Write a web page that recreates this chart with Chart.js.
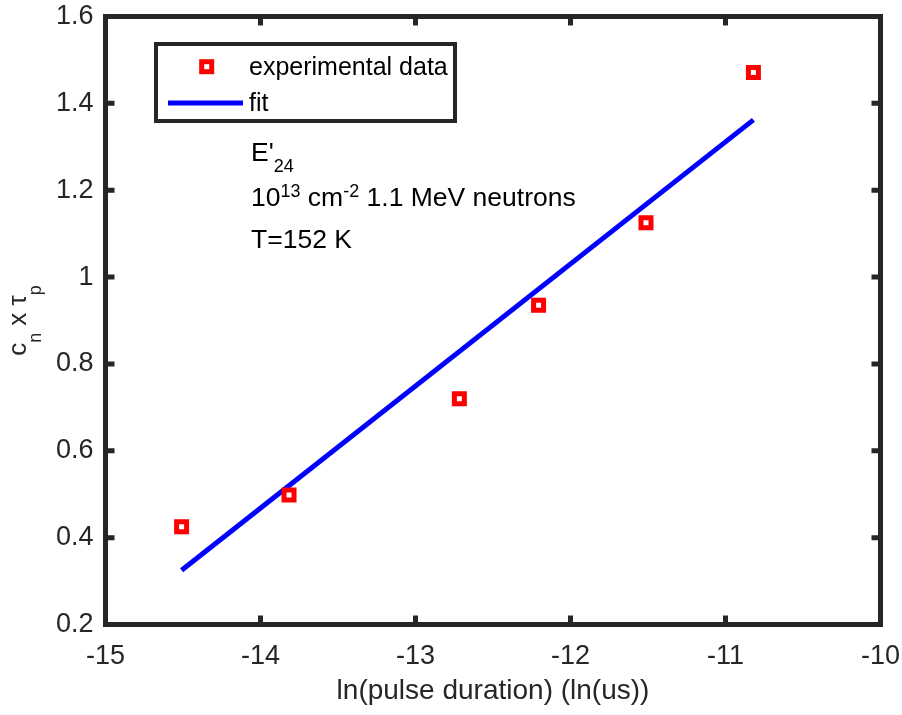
<!DOCTYPE html>
<html>
<head>
  <title>cn x tau_p vs pulse duration</title>
  <style>
    html, body { margin: 0; padding: 0; background: #fff; }
    #wrap { width: 902px; height: 715px; }
  </style>
</head>
<body>
  <div id="wrap">
    <canvas id="canvas"></canvas>
  </div>
  <script src="https://cdn.jsdelivr.net/npm/chart.js"></script>
  <script>
    // ln of pulse duration and measured cn x tau_p
    var pulseLn = [-14.509, -13.816, -12.717, -12.206, -11.513, -10.820];
    var cnTau = [0.425, 0.498, 0.720, 0.935, 1.125, 1.471];
    // straight fit, two end points
    var fitX = [-14.509, -10.820];
    var fitY = [0.325, 1.362];
    var xTicks = [-15, -14, -13, -12, -11, -10];
    var yTicks = [0.2, 0.4, 0.6, 0.8, 1, 1.2, 1.4, 1.6];
    var legendLabels = ['experimental data', 'fit'];
    var xTitle = 'ln(pulse duration) (ln(us))';

    var FONT = '"Liberation Sans", Arial, Helvetica, sans-serif';
    var AXIS = '#262626';

    function font(size) { return size + 'px ' + FONT; }

    // draw a run of text pieces: [text, size, dy]
    function richText(ctx, x, y, parts) {
      parts.forEach(function(p) {
        ctx.font = font(p[1]);
        ctx.fillText(p[0], x, y + p[2]);
        x += ctx.measureText(p[0]).width;
      });
      return x;
    }
    function richWidth(ctx, parts) {
      var w = 0;
      parts.forEach(function(p) { ctx.font = font(p[1]); w += ctx.measureText(p[0]).width; });
      return w;
    }
    // no label overflow padding, keep the plot box where it is
    function noPad(s) {
      s.paddingLeft = 0; s.paddingRight = 0; s.paddingTop = 0; s.paddingBottom = 0;
    }

    var matlabLook = {
      id: 'matlabLook',
      afterDraw: function(chart) {
        var ctx = chart.ctx, a = chart.chartArea;
        var xs = chart.scales.x, ys = chart.scales.y;
        ctx.save();

        // box and inward ticks
        ctx.strokeStyle = AXIS;
        ctx.lineWidth = 5;
        ctx.strokeRect(a.left, a.top, a.right - a.left, a.bottom - a.top);
        ctx.beginPath();
        xTicks.forEach(function(v) {
          var px = xs.getPixelForValue(v);
          ctx.moveTo(px, a.bottom); ctx.lineTo(px, a.bottom - 9);
          ctx.moveTo(px, a.top); ctx.lineTo(px, a.top + 9);
        });
        yTicks.forEach(function(v) {
          var py = ys.getPixelForValue(v);
          ctx.moveTo(a.left, py); ctx.lineTo(a.left + 9, py);
          ctx.moveTo(a.right, py); ctx.lineTo(a.right - 9, py);
        });
        ctx.stroke();

        // legend box
        ctx.fillStyle = '#fff';
        ctx.fillRect(156, 44, 299, 77);
        ctx.lineWidth = 4;
        ctx.strokeStyle = AXIS;
        ctx.strokeRect(156, 44, 299, 77);
        ctx.strokeStyle = '#ff0000';
        ctx.lineWidth = 5;
        ctx.strokeRect(201.7, 61.7, 10, 10);
        ctx.strokeStyle = '#0000ff';
        ctx.beginPath();
        ctx.moveTo(168, 103); ctx.lineTo(243, 103);
        ctx.stroke();
        ctx.fillStyle = '#000';
        ctx.font = font(25);
        ctx.textBaseline = 'alphabetic';
        ctx.textAlign = 'left';
        ctx.fillText(legendLabels[0], 249, 75);
        ctx.fillText(legendLabels[1], 249, 111);

        // annotation
        richText(ctx, 251, 161, [["E'", 26.5, 0], ['24', 18, 10.5]]);
        richText(ctx, 251, 206, [['10', 26.5, 0], ['13', 18, -9], [' cm', 26.5, 0], ['-2', 18, -9], [' 1.1 MeV neutrons', 26.5, 0]]);
        richText(ctx, 251, 248, [['T=152 K', 26.5, 0]]);

        // axis titles
        ctx.fillStyle = AXIS;
        ctx.font = font(28);
        ctx.textAlign = 'center';
        ctx.fillText(xTitle, (a.left + a.right) / 2, 699);
        ctx.textAlign = 'left';
        var yParts = [['c', 26, 0], ['n', 18, 15], [' x ', 26, 0], ['\u03c4', 26, 0], ['p', 18, 15]];
        var w = richWidth(ctx, yParts);
        ctx.translate(26, (a.top + a.bottom) / 2);
        ctx.rotate(-Math.PI / 2);
        richText(ctx, -w / 2, 0, yParts);
        ctx.restore();
      }
    };

    var config = {
      type: 'scatter',
      data: {
        datasets: [{
          label: legendLabels[0],
          data: pulseLn.map(function(x, i) { return {x: x, y: cnTau[i]}; }),
          pointStyle: 'rect',
          pointRadius: 7.07,
          pointHoverRadius: 7.07,
          borderWidth: 5,
          pointBorderWidth: 5,
          borderColor: '#ff0000',
          backgroundColor: 'rgba(0,0,0,0)'
        }, {
          type: 'line',
          label: legendLabels[1],
          data: fitX.map(function(x, i) { return {x: x, y: fitY[i]}; }),
          borderColor: '#0000ff',
          borderWidth: 5,
          pointRadius: 0,
          fill: false
        }]
      },
      options: {
        responsive: false,
        animation: false,
        events: [],
        layout: { autoPadding: false, padding: { left: 0, top: 16.5, right: 21.5, bottom: 0 } },
        plugins: { legend: { display: false }, tooltip: { enabled: false } },
        scales: {
          x: {
            type: 'linear', min: -15, max: -10,
            grid: { display: false, drawTicks: false },
            border: { display: false },
            afterBuildTicks: function(s) { s.ticks = xTicks.map(function(v) { return {value: v}; }); },
            afterFit: function(s) { s.height = 90.5; noPad(s); },
            ticks: { color: AXIS, font: { family: FONT, size: 27 }, padding: 16, maxRotation: 0,
                     callback: function(v) { return String(v); } }
          },
          y: {
            type: 'linear', min: 0.2, max: 1.6,
            grid: { display: false, drawTicks: false },
            border: { display: false },
            afterBuildTicks: function(s) { s.ticks = yTicks.map(function(v) { return {value: v}; }); },
            afterFit: function(s) { s.width = 105.5; noPad(s); },
            ticks: { color: AXIS, font: { family: FONT, size: 27 }, padding: 12,
                     callback: function(v) { return String(v); } }
          }
        }
      },
      plugins: [matlabLook]
    };

    window.onload = function() {
      var cv = document.getElementById('canvas');
      cv.width = 902; cv.height = 715;
      cv.style.width = '902px'; cv.style.height = '715px';
      window.myChart = new Chart(cv.getContext('2d'), config);
    };
  </script>
</body>
</html>
